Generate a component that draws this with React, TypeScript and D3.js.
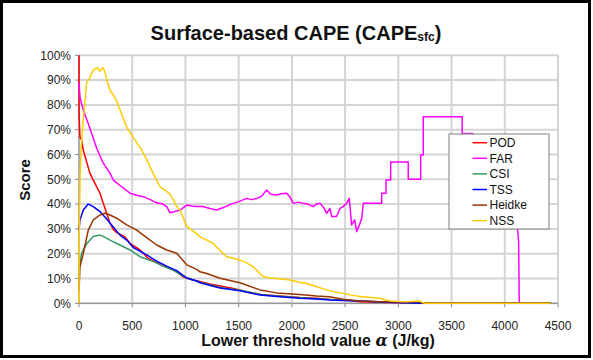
import React from "react";
import * as d3 from "d3";

const xTicks = [0, 500, 1000, 1500, 2000, 2500, 3000, 3500, 4000, 4500];
const yTicks = [0, 10, 20, 30, 40, 50, 60, 70, 80, 90, 100];

const seriesNames = ["POD", "FAR", "CSI", "TSS", "Heidke", "NSS"];
const seriesColors = ["#ff0000", "#ff00ff", "#339966", "#0000ff", "#993300", "#ffcc00"];

const POD: [number, number][] = [[0,100],[1,76],[9,67],[25,65.8],[40,61.8],[72,57],[103,52.4],[134,49.7],[166,47],[197,44.4],[228,40.3],[260,36.3],[291,32.3],[322,29.8],[354,28.5],[430,26.9],[479,24.2],[573,21.5],[650,18.1],[745,16.1],[800,15],[855,14],[920,12.6],[980,10.6],[1060,9.5],[1137,8.8],[1230,7.8],[1325,7],[1450,6],[1575,4.7],[1731,3.4],[1919,2.8],[2076,2.3],[2233,2],[2358,1.5],[2515,1.3],[2640,0.6],[2828,0.4],[3232,0],[4430,0]];
const FAR: [number, number][] = [[0,89],[9,83],[40,78],[103,70.5],[166,62.5],[228,56.5],[291,52.5],[322,49.7],[385,47.5],[479,44.4],[550,43.5],[604,43],[660,42],[730,40.5],[790,40],[824,39],[855,36.5],[900,37],[949,37.6],[1012,39.6],[1060,39.2],[1106,39],[1165,39],[1230,38.2],[1294,37.6],[1350,38.5],[1447,40.3],[1500,41],[1575,42.3],[1620,41.8],[1669,42.3],[1710,43],[1740,44.5],[1763,45.7],[1800,44],[1857,43.7],[1900,44.2],[1951,44.4],[1980,43],[2013,40.3],[2060,40.8],[2107,40.3],[2150,40],[2201,39],[2230,40],[2264,40.3],[2300,38.5],[2327,36.3],[2358,38.3],[2374,35],[2420,35],[2452,38.3],[2480,39],[2515,40.3],[2539,42.3],[2561,31.6],[2590,33.6],[2609,28.9],[2640,32.3],[2656,34.3],[2671,40.3],[2844,40.3],[2844,44.4],[2884,44.4],[2884,49.7],[2928,49.7],[2928,57],[3093,57],[3093,50],[3210,50],[3210,59.8],[3234,59.8],[3234,75.2],[3600,75.2],[3600,68.5],[3700,68.5],[3750,60],[3900,55],[4000,45],[4100,35],[4120,30],[4130,25],[4136,0],[4430,0]];
const CSI: [number, number][] = [[0,10],[3,14.8],[25,20.2],[72,24],[134,26.9],[197,27.5],[228,27],[291,25.5],[385,23.5],[479,21.5],[573,18.8],[700,16.8],[790,15],[885,13.4],[1000,10.5],[1137,8.5],[1325,6.4],[1512,5.3],[1700,3.6],[1857,2.9],[2076,2.2],[2358,1.5],[2546,1.1],[2828,0.6],[3232,0],[4430,0]];
const TSS: [number, number][] = [[0,29.5],[9,33.6],[40,37.6],[87,40],[134,39],[197,37],[260,34],[307,31.6],[385,27.5],[448,25.5],[510,22.5],[636,19.5],[730,17],[824,15],[918,13.2],[1012,10.2],[1106,9],[1137,8.3],[1325,6.2],[1512,5.1],[1700,3.3],[1857,2.7],[2076,2],[2233,1.7],[2358,1.3],[2546,1],[2640,0.9],[2828,0.5],[3232,0],[4430,0]];
const Heidke: [number, number][] = [[0,5],[9,14.8],[40,20],[87,29.5],[134,33.6],[197,35.6],[245,36.3],[291,35.6],[354,34.3],[448,31.6],[542,29.5],[636,26.5],[730,23.5],[824,21.5],[918,20.2],[1012,15.5],[1106,13.7],[1137,12.7],[1200,12],[1325,10.1],[1512,8.3],[1700,5.4],[1857,4.2],[2076,3.5],[2233,2.9],[2350,2.6],[2480,1.6],[2640,0.9],[2828,0.6],[3203,0.6],[3232,0],[4430,0]];
const NSS: [number, number][] = [[0,0],[3,30],[10,50],[19,62],[40,74],[72,89],[103,91],[132,94],[172,95],[195,93.5],[213,94.5],[228,95],[245,93],[260,90],[291,86],[322,84],[350,82],[385,78],[448,71],[507,67],[573,63],[636,58],[695,52.5],[761,47],[810,45.5],[855,44],[890,41.5],[918,39],[949,37.6],[1012,31],[1060,29.5],[1106,28],[1137,26.8],[1200,25.5],[1259,24.2],[1320,21.5],[1387,18.8],[1450,18.2],[1512,17.5],[1580,16.2],[1635,14.8],[1731,10.7],[1800,10.2],[1857,10],[1920,9.7],[1982,9.4],[2060,8.6],[2139,8],[2233,6.7],[2327,5.4],[2400,4.6],[2480,4],[2560,3.3],[2640,2.7],[2740,2.3],[2828,2],[2880,1.3],[2922,0.9],[3000,0.7],[3078,0.6],[3150,0.8],[3203,0.9],[3232,0.2],[3260,0],[4430,0]];

const seriesData = [POD, FAR, CSI, TSS, Heidke, NSS];

export default function App() {
  const W = 593, H = 360;
  const x = d3.scaleLinear().domain([0, 4500]).range([79, 558]);
  const y = d3.scaleLinear().domain([0, 100]).range([303.3, 55.3]);
  const line = d3.line<[number, number]>().x(d => x(d[0])).y(d => y(d[1]));
  const font = "Arial, 'Liberation Sans', sans-serif";
  const legX = 449, legY = 134, legW = 100, legH = 95;
  return (
    <svg width={W} height={H} style={{ position: "absolute", left: 0, top: 0, background: "#fff" }} fontFamily={font}>
      <rect x={0} y={0} width={W} height={H} fill="#fff" />
      {yTicks.map(t => (
        <line key={"gy" + t} x1={x(0)} x2={x(4500)} y1={y(t)} y2={y(t)} stroke="#d4d4d4" strokeWidth={2} />
      ))}
      {xTicks.map(t => (
        <line key={"gx" + t} x1={x(t)} x2={x(t)} y1={y(0)} y2={y(100)} stroke="#d4d4d4" strokeWidth={2} />
      ))}
      <line x1={x(0)} x2={x(0)} y1={y(0)} y2={y(100)} stroke="#888" strokeWidth={1} />
      <line x1={x(0)} x2={x(4500)} y1={y(0)} y2={y(0)} stroke="#888" strokeWidth={1} />
      {yTicks.map(t => (
        <g key={"ty" + t}>
          <line x1={x(0) - 4} x2={x(0)} y1={y(t)} y2={y(t)} stroke="#888" />
          <text x={71} y={y(t)} dy="0.35em" textAnchor="end" fontSize={12} fill="#222">{t + "%"}</text>
        </g>
      ))}
      {xTicks.map(t => (
        <g key={"tx" + t}>
          <line x1={x(t)} x2={x(t)} y1={y(0)} y2={y(0) + 4} stroke="#888" />
          <text x={x(t)} y={330} textAnchor="middle" fontSize={12} fill="#222">{t}</text>
        </g>
      ))}
      {seriesData.map((s, i) => (
        <path key={seriesNames[i]} d={line(s) || ""} fill="none" stroke={seriesColors[i]} strokeWidth={1.5} strokeLinejoin="round" />
      ))}
      <rect x={legX} y={legY} width={legW} height={legH} fill="#fff" stroke="#808080" strokeWidth={1} />
      {seriesNames.map((n, i) => (
        <g key={"lg" + n}>
          <line x1={472.5} x2={487} y1={142.7 + i * 15.6} y2={142.7 + i * 15.6} stroke={seriesColors[i]} strokeWidth={1.5} />
          <text x={489.5} y={142.7 + i * 15.6} dy="0.35em" fontSize={12} fill="#111">{n}</text>
        </g>
      ))}
      <text x={296} y={40} textAnchor="middle" fontSize={20} fontWeight="bold" fill="#111">
        Surface-based CAPE (CAPE<tspan fontSize={12} dy={1}>sfc</tspan><tspan dy={-1}>)</tspan>
      </text>
      <text transform="translate(30,180) rotate(-90)" textAnchor="middle" fontSize={15} fontWeight="bold" fill="#111">Score</text>
      <text x={318} y={346} textAnchor="middle" fontSize={16} fontWeight="bold" fill="#111">
        Lower threshold value <tspan fontFamily="'DejaVu Serif', 'Liberation Serif', serif" fontStyle="italic">α</tspan> (J/kg)
      </text>
      <rect x={1.5} y={1.5} width={588} height={355} fill="none" stroke="#000" strokeWidth={3} />
    </svg>
  );
}
